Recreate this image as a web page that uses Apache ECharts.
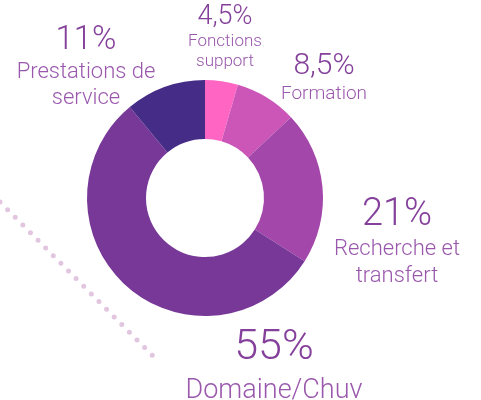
<!DOCTYPE html>
<html>
<head>
<meta charset="utf-8">
<script src="https://cdn.jsdelivr.net/npm/echarts@6/dist/echarts.min.js"></script>
<style>
  html, body { margin: 0; padding: 0; background: #fff; }
  #chart { width: 481px; height: 400px; }
</style>
</head>
<body>
<div id="chart"></div>
<script>
const categories = ['Fonctions\nsupport', 'Formation', 'Recherche et\ntransfert', 'Domaine/Chuv', 'Prestations de\nservice'];
const shares = [4.5, 8.5, 21, 55, 11];
const pctLabels = ['4,5%', '8,5%', '21%', '55%', '11%'];
const colors = ['#ff66c4', '#cc55b8', '#a447aa', '#773898', '#452c87'];

// label block placement (top-centre) and text sizes per slice
const labelPos = [[225, 2], [324, 50], [397, 194], [274, 325], [86, 23]];
const pctSize = [27, 30, 38, 43, 33];
const nameSize = [17, 19, 22, 27, 22];
const nameLine = [20, 22, 27, 38, 26];

const chart = echarts.init(document.getElementById('chart'), null, { renderer: 'canvas' });

const rich = {};
shares.forEach((_, i) => {
  rich['p' + i] = { fontSize: pctSize[i], lineHeight: Math.round(pctSize[i] * 1.1), color: '#84409a', fontFamily: 'Roboto', fontWeight: 300 };
  rich['n' + i] = { fontSize: nameSize[i], lineHeight: nameLine[i], color: '#9a58ad', fontFamily: 'Roboto', fontWeight: 300 };
});

chart.setOption({
  backgroundColor: '#fff',
  animation: false,
  graphic: [{
    type: 'line',
    shape: { x1: 0, y1: 202, x2: 153, y2: 356 },
    style: { stroke: '#e2c6e0', lineWidth: 5, lineCap: 'round', lineDash: [0, 10.8] },
    silent: true
  }],
  series: [{
    type: 'pie',
    center: [205, 198],
    radius: [59, 118],
    startAngle: 90,
    clockwise: true,
    silent: true,
    avoidLabelOverlap: false,
    data: categories.map((c, i) => ({ name: c, value: shares[i], itemStyle: { color: colors[i] } })),
    label: {
      show: true,
      position: 'outside',
      overflow: 'none',
      width: 300,
      formatter: (p) => {
        const i = p.dataIndex;
        const names = categories[i].split('\n').map(s => `{n${i}|${s}}`).join('\n');
        return `{p${i}|${pctLabels[i]}}\n${names}`;
      },
      align: 'center',
      rich
    },
    labelLine: { show: false },
    labelLayout: (params) => ({
      x: labelPos[params.dataIndex][0],
      y: labelPos[params.dataIndex][1],
      align: 'center',
      verticalAlign: 'top'
    })
  }]
});
</script>
</body>
</html>
